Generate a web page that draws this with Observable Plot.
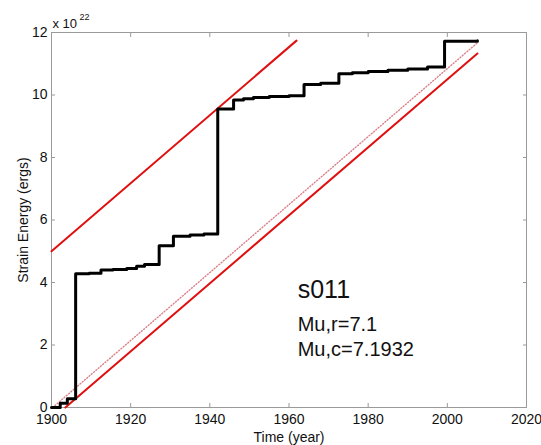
<!DOCTYPE html>
<html>
<head>
<meta charset="utf-8">
<script src="https://cdn.jsdelivr.net/npm/d3@7"></script>
<script src="https://cdn.jsdelivr.net/npm/@observablehq/plot@0.6"></script>
<style>
  body { margin: 0; background: #fff; }
  svg { font-family: "Liberation Sans", Arial, sans-serif; }
</style>
</head>
<body>
<div id="chart"></div>
<script>
// Cumulative strain energy (units of 1e22 ergs), step function
const stepYears  = [1900.0, 1902.2, 1904.0, 1906.1, 1909.5, 1912.5, 1915.5, 1919.0, 1921.5, 1923.5, 1927.2, 1930.8, 1935.0, 1938.5, 1942.0, 1946.0, 1948.5, 1951.0, 1955.0, 1960.0, 1963.8, 1968.0, 1972.6, 1976.0, 1980.0, 1985.0, 1990.0, 1995.0, 1999.3, 2007.6];
const stepEnergy = [0.00,   0.14,   0.28,   4.28,   4.30,   4.40,   4.42,   4.45,   4.52,   4.58,   5.18,   5.48,   5.52,   5.55,   9.55,   9.84,   9.88,   9.92,   9.95,   9.98,   10.34,  10.38,  10.68,  10.71,  10.75,  10.79,  10.83,  10.90,  11.72,  11.74];

// Red bounding lines and dotted reference line
const upperYears  = [1900.0, 1961.9];
const upperEnergy = [5.0, 11.74];
const lowerYears  = [1903.5, 2007.6];
const lowerEnergy = [0.0, 11.33];
const dottedYears  = [1900.3, 2007.5];
const dottedEnergy = [0.0, 11.66];

const xTicks = [1900, 1920, 1940, 1960, 1980, 2000, 2020];
const yTicks = [0, 2, 4, 6, 8, 10, 12];

const labelSite = "s011";
const labelMuR = "Mu,r=7.1";
const labelMuC = "Mu,c=7.1932";
const labelPos = {x: 1962.2, ySite: 3.52, yR: 2.46, yC: 1.66};

const toPts = (xs, ys) => xs.map((x, i) => ({x, y: ys[i]}));
const steps = toPts(stepYears, stepEnergy);
const upper = toPts(upperYears, upperEnergy);
const lower = toPts(lowerYears, lowerEnergy);
const dotted = toPts(dottedYears, dottedEnergy);

const red = "#e01010";
const frameGray = "#9a9a9a";

const chart = Plot.plot({
  width: 541,
  height: 445,
  marginLeft: 51,
  marginRight: 15,
  marginTop: 32,
  marginBottom: 38,
  style: {fontFamily: "'Liberation Sans', Arial, sans-serif", fontSize: "14px", color: "#111", background: "#fff"},
  x: {domain: [1900, 2020]},
  y: {domain: [0, 12]},
  marks: [
    Plot.frame({stroke: frameGray, strokeWidth: 1}),
    Plot.axisX({ticks: xTicks, tickSize: -4, tickPadding: 11, tickFormat: d3.format("d"), stroke: frameGray, fill: "#111", fontSize: 14,
      label: "Time (year)", labelAnchor: "center", labelOffset: 34, labelArrow: "none"}),
    Plot.axisX({anchor: "top", ticks: xTicks, tickSize: -4, stroke: frameGray, tickFormat: () => "", label: null}),
    Plot.axisY({ticks: yTicks, tickSize: -4, tickPadding: 8, tickFormat: d3.format("d"), stroke: frameGray, fill: "#111", fontSize: 14,
      label: "Strain Energy (ergs)", labelAnchor: "center", labelOffset: 33, labelArrow: "none"}),
    Plot.axisY({anchor: "right", ticks: yTicks, tickSize: -4, stroke: frameGray, tickFormat: () => "", label: null}),
    Plot.line(dotted, {x: "x", y: "y", stroke: "#d9808a", strokeWidth: 1.4, strokeDasharray: "1,2"}),
    Plot.line(upper, {x: "x", y: "y", stroke: red, strokeWidth: 2}),
    Plot.line(lower, {x: "x", y: "y", stroke: red, strokeWidth: 2}),
    Plot.line(steps, {x: "x", y: "y", curve: "step-after", stroke: "#000", strokeWidth: 3}),
    Plot.text([labelSite], {x: labelPos.x, y: labelPos.ySite, text: d => d, textAnchor: "start", lineAnchor: "bottom", fontSize: 25, fill: "#111"}),
    Plot.text([labelMuR], {x: labelPos.x, y: labelPos.yR, text: d => d, textAnchor: "start", lineAnchor: "bottom", fontSize: 20, fill: "#111"}),
    Plot.text([labelMuC], {x: labelPos.x, y: labelPos.yC, text: d => d, textAnchor: "start", lineAnchor: "bottom", fontSize: 20, fill: "#111"}),
    Plot.text(["x 10"], {frameAnchor: "top-left", text: d => d, textAnchor: "start", lineAnchor: "bottom", dx: 1, dy: -5, fontSize: 13, fill: "#111"}),
    Plot.text(["22"], {frameAnchor: "top-left", text: d => d, textAnchor: "start", lineAnchor: "bottom", dx: 28, dy: -13, fontSize: 9, fill: "#111"})
  ]
});
document.getElementById("chart").appendChild(chart);
</script>
</body>
</html>
